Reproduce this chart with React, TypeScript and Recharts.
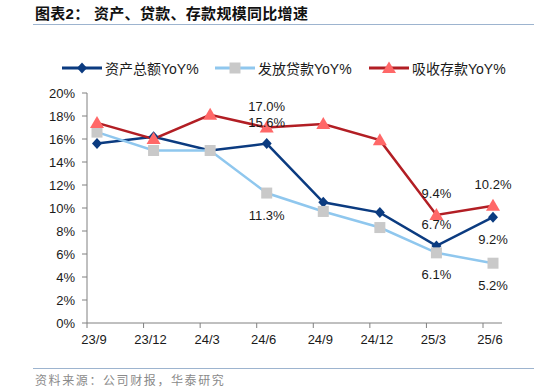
import React from 'react';
import { LineChart, Line, XAxis, YAxis } from 'recharts';

const periods = ['23/9', '23/12', '24/3', '24/6', '24/9', '24/12', '25/3', '25/6'];
const assetYoY = [15.6, 16.2, 15.0, 15.6, 10.5, 9.6, 6.7, 9.2];
const loanYoY = [16.6, 15.0, 15.0, 11.3, 9.7, 8.3, 6.1, 5.2];
const depositYoY = [17.4, 16.0, 18.1, 17.0, 17.3, 15.9, 9.4, 10.2];
const yTicks = [0, 2, 4, 6, 8, 10, 12, 14, 16, 18, 20];
// only these points carry a value label
const labeledIdx = [3, 6, 7];

const data = periods.map((p, i) => ({
  period: p,
  asset: assetYoY[i],
  loan: loanYoY[i],
  deposit: depositYoY[i],
}));

const NAVY = '#0b3b80';
const LIGHT_BLUE = '#8fc7ee';
const GRAY_SQ = '#c9c9c9';
const DARK_RED = '#b21e24';
const PINK = '#ff6868';
const FONT = 'Arial, "Liberation Sans", "Noto Sans CJK SC", sans-serif';

const Diamond = ({ cx, cy }: any) => (
  <path d={`M${cx},${cy - 5.5} L${cx + 5},${cy} L${cx},${cy + 5.5} L${cx - 5},${cy} Z`} fill={NAVY} />
);
const Square = ({ cx, cy }: any) => <rect x={cx - 5.5} y={cy - 5.5} width={11} height={11} fill={GRAY_SQ} />;
const Triangle = ({ cx, cy }: any) => (
  <path d={`M${cx},${cy - 7} L${cx + 7},${cy + 5} L${cx - 7},${cy + 5} Z`} fill={PINK} />
);

// below: indices whose label sits under the point
const makeLabel = (below: number[]) => (props: any) => {
  const { x, y, value, index } = props;
  if (!labeledIdx.includes(index)) return <g key={`l${index}`} />;
  const under = below.includes(index);
  return (
    <text
      key={`l${index}`}
      x={x}
      y={under ? y + 22 : y - 21}
      textAnchor="middle"
      dominantBaseline="central"
      fontSize={13}
      fontFamily={FONT}
      fill="#1a1a1a"
    >
      {value.toFixed(1)}%
    </text>
  );
};

const XTick = ({ x, y, payload }: any) => (
  <g>
    <line x1={x - 10} x2={x - 10} y1={y - 12} y2={y - 7} stroke="#808080" />
    <text x={x - 3} y={y} dy="0.71em" textAnchor="middle" fontSize={13} fontFamily={FONT} fill="#1a1a1a">
      {payload.value}
    </text>
  </g>
);

const legendItems = [
  { label: '资产总额YoY%', line: NAVY, marker: <path d="M20,2.5 L25,8 L20,13.5 L15,8 Z" fill={NAVY} /> },
  { label: '发放贷款YoY%', line: LIGHT_BLUE, marker: <rect x={14.5} y={2.5} width={11} height={11} fill={GRAY_SQ} /> },
  { label: '吸收存款YoY%', line: DARK_RED, marker: <path d="M20,1.5 L27,13 L13,13 Z" fill={PINK} /> },
];
const legendLeft = [62, 215, 369];

export default function App() {
  return (
    <div style={{ position: 'absolute', left: 0, top: 0, width: 534, height: 392, background: '#fff', fontFamily: FONT }}>
      <div style={{ position: 'absolute', left: 35, top: 4, fontSize: 15, fontWeight: 'bold', color: '#111', whiteSpace: 'pre', fontFamily: FONT, lineHeight: '20px', letterSpacing: 0.3 }}>
        {'图表2： 资产、贷款、存款规模同比增速'}
      </div>
      <div style={{ position: 'absolute', left: 33, right: 0, top: 24, height: 1, background: '#9db4cf' }} />

      {legendItems.map((it, i) => (
        <div key={it.label} style={{ position: 'absolute', left: legendLeft[i], top: 59, height: 18, display: 'flex', alignItems: 'center' }}>
          <svg width={40} height={16}>
            <line x1={0} x2={40} y1={8} y2={8} stroke={it.line} strokeWidth={3} />
            {it.marker}
          </svg>
          <span style={{ marginLeft: 3, fontSize: 14, color: '#1a1a1a', fontFamily: FONT, whiteSpace: 'nowrap' }}>
            {it.label}
          </span>
        </div>
      ))}

      <div style={{ position: 'absolute', left: 0, top: 0 }}>
        <LineChart width={534} height={392} data={data} margin={{ top: 93, right: 32, bottom: 39, left: 0 }}>
          <XAxis
            dataKey="period"
            padding={{ left: 10, right: 9 }}
            axisLine={{ stroke: '#808080' }}
            tickLine={false}
            tickSize={5}
            tickMargin={7}
            height={30}
            interval={0}
            tick={<XTick />}
          />
          <YAxis
            domain={[0, 20]}
            ticks={yTicks}
            width={87}
            axisLine={{ stroke: '#808080' }}
            tickLine={{ stroke: '#808080' }}
            tickSize={5}
            tickMargin={7}
            tickFormatter={(v) => `${v}%`}
            tick={{ fontSize: 13, fontFamily: FONT, fill: '#1a1a1a' }}
          />
          <Line
            dataKey="asset"
            stroke={NAVY}
            strokeWidth={2.5}
            dot={(p: any) => <Diamond key={`a${p.index}`} {...p} />}
            activeDot={false}
            label={makeLabel([7])}
            isAnimationActive={false}
          />
          <Line
            dataKey="loan"
            stroke={LIGHT_BLUE}
            strokeWidth={2.5}
            dot={(p: any) => <Square key={`b${p.index}`} {...p} />}
            activeDot={false}
            label={makeLabel([3, 6, 7])}
            isAnimationActive={false}
          />
          <Line
            dataKey="deposit"
            stroke={DARK_RED}
            strokeWidth={2.5}
            dot={(p: any) => <Triangle key={`c${p.index}`} {...p} />}
            activeDot={false}
            label={makeLabel([])}
            isAnimationActive={false}
          />
        </LineChart>
      </div>

      <div style={{ position: 'absolute', left: 33, right: 0, top: 368, height: 1, background: '#9db4cf' }} />
      <div style={{ position: 'absolute', left: 35, top: 372, fontSize: 12, color: '#8a8a8a', fontFamily: FONT, lineHeight: '18px', letterSpacing: 1.6 }}>
        资料来源：公司财报，华泰研究
      </div>
    </div>
  );
}
